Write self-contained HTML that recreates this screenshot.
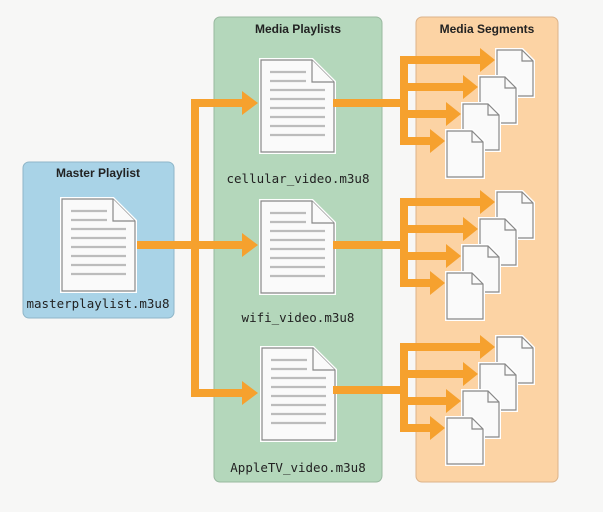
<!DOCTYPE html>
<html><head><meta charset="utf-8"><style>
html,body{margin:0;padding:0;background:#f7f7f6;}
svg{display:block}
.t{font-family:"Liberation Sans",sans-serif;font-weight:bold;font-size:12px;fill:#222}
.m{font-family:"DejaVu Sans Mono","Liberation Mono",monospace;font-size:12.5px;fill:#222}
</style></head><body>
<svg width="603" height="512" viewBox="0 0 603 512" xmlns="http://www.w3.org/2000/svg">
<defs>
<g id="big">
  <path d="M0,0 H51 L73,22 V92 H0 Z" fill="#fafafa" stroke="#fff" stroke-width="4"/>
  <path d="M0,0 H51 L73,22 V92 H0 Z" fill="#fafafa" stroke="#888" stroke-width="1.2"/>
  <path d="M51,0 V22 H73" fill="#fafafa" stroke="#888" stroke-width="1.2"/>
  <g stroke="#bcbcbc" stroke-width="2.2">
    <line x1="9" y1="12" x2="45" y2="12"/><line x1="9" y1="21" x2="45" y2="21"/>
    <line x1="9" y1="30" x2="64" y2="30"/><line x1="9" y1="39" x2="64" y2="39"/>
    <line x1="9" y1="48" x2="64" y2="48"/><line x1="9" y1="57" x2="64" y2="57"/>
    <line x1="9" y1="66" x2="64" y2="66"/><line x1="9" y1="75" x2="64" y2="75"/>
  </g>
</g>
<g id="small">
  <path d="M0,0 H25 L36,11 V46 H0 Z" fill="#fafafa" stroke="#fff" stroke-width="4"/>
  <path d="M0,0 H25 L36,11 V46 H0 Z" fill="#fafafa" stroke="#888" stroke-width="1.2"/>
  <path d="M25,0 V11 H36" fill="none" stroke="#888" stroke-width="1.2"/>
</g>
<g id="seg">
  <g fill="#f6a12e" stroke="none">
    <rect x="-67" y="39" width="68" height="8"/>
    <rect x="0" y="-4" width="8" height="89"/>
    <rect x="0" y="-4" width="80" height="8"/><path d="M80,-12 L95,0 L80,12 Z"/>
    <rect x="0" y="23" width="63" height="8"/><path d="M63,15 L78,27 L63,39 Z"/>
    <rect x="0" y="50" width="46" height="8"/><path d="M46,42 L61,54 L46,66 Z"/>
    <rect x="0" y="77" width="30" height="8"/><path d="M30,69 L45,81 L30,93 Z"/>
  </g>
  <use href="#small" x="97" y="-10"/>
  <use href="#small" x="80" y="17"/>
  <use href="#small" x="63" y="44"/>
  <use href="#small" x="47" y="71"/>
</g>
</defs>
<rect x="23" y="162" width="151" height="156" rx="6" fill="#a9d3e7" stroke="#8fb6c8"/>
<rect x="214" y="17" width="168" height="465" rx="6" fill="#b4d7bb" stroke="#98b89f"/>
<rect x="416" y="17" width="142" height="465" rx="6" fill="#fcd3a4" stroke="#dcb38a"/>
<text class="t" x="98" y="177" text-anchor="middle">Master Playlist</text>
<text class="t" x="298" y="33" text-anchor="middle">Media Playlists</text>
<text class="t" x="487" y="33" text-anchor="middle">Media Segments</text>
<g fill="#f6a12e">
  <rect x="135" y="241" width="64" height="8"/>
  <rect x="191" y="99" width="8" height="298"/>
  <rect x="191" y="99" width="52" height="8"/><path d="M242,91 L258,103 L242,115 Z"/>
  <rect x="191" y="241" width="52" height="8"/><path d="M242,233 L258,245 L242,257 Z"/>
  <rect x="191" y="389" width="52" height="8"/><path d="M242,381 L258,393 L242,405 Z"/>
</g>
<use href="#big" x="62" y="199"/>
<use href="#big" x="261" y="60"/>
<use href="#big" x="261" y="201"/>
<use href="#big" x="262" y="348"/>
<text class="m" x="98" y="308" text-anchor="middle">masterplaylist.m3u8</text>
<text class="m" x="298" y="183" text-anchor="middle">cellular_video.m3u8</text>
<text class="m" x="298" y="322" text-anchor="middle">wifi_video.m3u8</text>
<text class="m" x="298" y="472" text-anchor="middle">AppleTV_video.m3u8</text>
<g transform="translate(400,60)"><use href="#seg"/></g>
<g transform="translate(400,202)"><use href="#seg"/></g>
<g transform="translate(400,347)"><use href="#seg"/></g>
</svg>
</body></html>
